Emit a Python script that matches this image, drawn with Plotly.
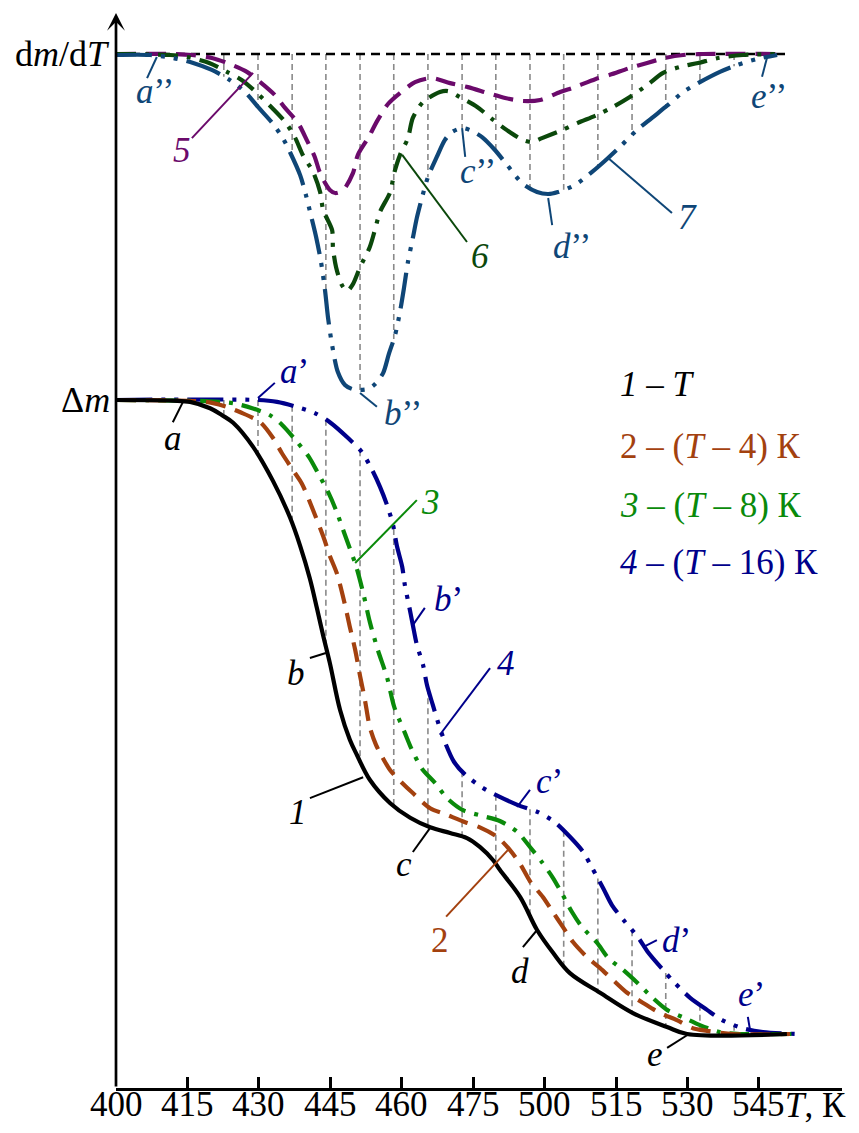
import numpy as np
import plotly.graph_objects as go

# ---------------- data ----------------
# Mass-loss curves (relative Δm) for different heating programmes
T1 = [400.0, 412.8, 416.7, 421.2, 423.9, 426.4, 430.9, 435.4, 439.2, 441.5, 443.7, 445.3, 446.7, 448.2, 450.5,
      452.7, 454.3, 457.2, 461.8, 466.3, 470.8, 475.3, 479.1, 482.0, 485.0, 486.5, 491.1, 494.9, 498.5, 502.3,
      509.1, 516.5, 524.2, 528.7, 551.2]
M1 = [1.000, 0.999, 0.997, 0.987, 0.976, 0.964, 0.926, 0.872, 0.815, 0.770, 0.718, 0.671, 0.628, 0.585, 0.511,
      0.464, 0.440, 0.401, 0.364, 0.341, 0.326, 0.317, 0.309, 0.295, 0.274, 0.259, 0.216, 0.164, 0.128, 0.096,
      0.065, 0.033, 0.011, 0.000, 0.000]

T2 = [400.0, 418.9, 421.9, 425.0, 427.9, 432.5, 435.4, 437.4, 440.3, 441.9, 444.2, 446.7, 448.2, 449.8, 451.6,
      452.7, 453.9, 455.0, 456.1, 457.2, 458.6, 460.0, 461.8, 464.5, 466.9, 470.8, 474.1, 478.7, 482.0, 485.9,
      488.8, 491.1, 493.3, 496.2, 498.3, 500.7, 503.0, 506.2, 509.1, 512.5, 515.2, 518.8, 522.6, 526.4, 530.0,
      533.2, 539.1, 551.9]
M2 = [1.000, 0.998, 0.995, 0.989, 0.981, 0.965, 0.940, 0.916, 0.885, 0.868, 0.830, 0.785, 0.754, 0.726, 0.677,
      0.642, 0.606, 0.565, 0.527, 0.484, 0.456, 0.437, 0.416, 0.396, 0.380, 0.356, 0.347, 0.334, 0.326, 0.311,
      0.290, 0.268, 0.241, 0.216, 0.194, 0.169, 0.145, 0.121, 0.104, 0.082, 0.065, 0.049, 0.033, 0.022, 0.009,
      0.005, 0.000, 0.000]

T3 = [400.0, 421.2, 426.4, 430.7, 434.7, 437.4, 440.8, 443.5, 445.5, 447.8, 449.6, 451.6, 454.1, 455.7, 457.2,
      459.0, 461.1, 462.7, 465.1, 466.7, 469.0, 471.9, 474.6, 478.2, 482.5, 486.5, 490.4, 493.3, 496.0, 498.5,
      500.7, 502.8, 505.0, 508.4, 510.9, 514.3, 517.6, 520.8, 524.2, 528.2, 531.6, 536.1, 540.6, 552.4]
M3 = [1.000, 0.998, 0.995, 0.987, 0.976, 0.961, 0.934, 0.910, 0.885, 0.855, 0.826, 0.787, 0.738, 0.696, 0.650,
      0.606, 0.562, 0.516, 0.475, 0.448, 0.418, 0.396, 0.372, 0.353, 0.344, 0.336, 0.319, 0.295, 0.271, 0.246,
      0.219, 0.192, 0.169, 0.144, 0.120, 0.101, 0.080, 0.058, 0.038, 0.025, 0.014, 0.003, 0.000, 0.000]

T4 = [400.0, 432.0, 436.3, 440.8, 444.9, 448.2, 452.3, 455.4, 457.7, 459.5, 461.1, 462.4, 463.3, 464.5, 465.1,
      466.0, 466.9, 467.8, 469.2, 470.1, 471.4, 472.6, 474.1, 476.2, 478.7, 482.7, 486.5, 490.6, 495.1, 498.9,
      502.3, 505.3, 507.3, 509.8, 511.8, 514.7, 517.6, 519.9, 523.3, 526.0, 529.4, 533.2, 536.6, 541.3, 545.8,
      553.5]
M4 = [1.000, 1.000, 0.997, 0.989, 0.979, 0.965, 0.940, 0.918, 0.890, 0.863, 0.834, 0.804, 0.770, 0.737, 0.708,
      0.677, 0.645, 0.614, 0.582, 0.550, 0.519, 0.491, 0.461, 0.429, 0.409, 0.388, 0.374, 0.361, 0.350, 0.334,
      0.311, 0.287, 0.262, 0.230, 0.203, 0.177, 0.153, 0.129, 0.101, 0.080, 0.057, 0.038, 0.022, 0.009, 0.003,
      0.000]

# Derivative curves dm/dT (5, 6, 7)
T5 = [400.0, 413.3, 417.1, 421.6, 425.0, 429.5, 432.5, 435.8, 438.1, 441.0, 443.0, 444.8, 446.0, 448.2, 449.4,
      451.2, 453.4, 454.5, 456.8, 459.0, 461.3, 464.0, 467.4, 471.2, 475.3, 479.3, 483.8, 487.7, 491.7, 495.6,
      500.1, 503.4, 508.0, 511.3, 515.8, 519.7, 523.7, 527.8, 532.3, 549.2]
D5 = [0.000, 0.000, -0.003, -0.012, -0.027, -0.054, -0.085, -0.124, -0.163, -0.208, -0.260, -0.311, -0.360,
      -0.411, -0.420, -0.411, -0.360, -0.305, -0.254, -0.199, -0.151, -0.118, -0.085, -0.073, -0.088, -0.100,
      -0.118, -0.133, -0.142, -0.139, -0.115, -0.100, -0.076, -0.063, -0.042, -0.027, -0.012, -0.003, 0.000, 0.000]

T6 = [400.0, 412.2, 416.0, 421.0, 425.0, 428.4, 431.8, 435.2, 438.1, 440.3, 442.1, 444.4, 446.0, 446.7, 448.7,
      448.9, 449.6, 450.9, 452.1, 453.4, 455.0, 457.2, 458.4, 459.5, 461.8, 462.7, 464.0, 465.8, 466.9, 469.2,
      473.0, 474.8, 477.5, 481.4, 485.0, 488.1, 491.7, 493.8, 496.0, 500.5, 504.1, 508.4, 512.0, 515.8, 519.7,
      523.3, 527.1, 531.2, 535.7, 541.3, 548.5]
D6 = [0.000, -0.003, -0.009, -0.027, -0.054, -0.079, -0.118, -0.163, -0.205, -0.251, -0.305, -0.356, -0.417,
      -0.471, -0.532, -0.586, -0.644, -0.698, -0.716, -0.695, -0.644, -0.583, -0.529, -0.477, -0.417, -0.360,
      -0.305, -0.254, -0.193, -0.145, -0.115, -0.112, -0.130, -0.160, -0.199, -0.230, -0.260, -0.266, -0.254,
      -0.230, -0.208, -0.184, -0.160, -0.130, -0.094, -0.057, -0.039, -0.027, -0.012, -0.003, 0.000]

T7 = [400.0, 407.7, 412.8, 417.4, 421.6, 425.7, 429.1, 432.0, 435.2, 437.6, 439.2, 441.5, 442.8, 443.9, 445.1,
      446.2, 447.1, 447.8, 448.7, 450.0, 451.6, 453.2, 455.0, 456.8, 458.4, 460.2, 461.5, 462.9, 464.0, 464.9,
      465.8, 466.9, 467.8, 469.0, 470.3, 472.3, 474.1, 475.7, 478.0, 479.8, 482.5, 485.4, 488.3, 491.5, 494.9,
      497.4, 499.6, 503.4, 507.3, 510.9, 514.0, 517.4, 520.8, 524.4, 527.8, 531.6, 536.1, 540.0, 544.5, 549.0]
D7 = [-0.003, -0.003, -0.012, -0.027, -0.048, -0.079, -0.115, -0.160, -0.208, -0.254, -0.296, -0.366, -0.426,
      -0.486, -0.553, -0.628, -0.713, -0.798, -0.879, -0.961, -1.000, -1.012, -1.015, -1.012, -0.997, -0.964,
      -0.906, -0.849, -0.779, -0.707, -0.628, -0.556, -0.495, -0.432, -0.372, -0.311, -0.260, -0.236, -0.224,
      -0.230, -0.251, -0.290, -0.338, -0.390, -0.417, -0.423, -0.417, -0.396, -0.356, -0.314, -0.275, -0.230,
      -0.193, -0.154, -0.115, -0.085, -0.054, -0.033, -0.015, -0.003]

# temperatures at which the guide lines are dropped
GUIDE_T = [424.3, 432.0, 439.7, 447.3, 455.0, 462.6, 470.3, 478.0, 485.6, 493.3, 500.9, 508.6, 516.3, 523.9,
           531.6, 539.3]

TICK_LABELS = ["400", "415", "430", "445", "460", "475", "500", "515", "530", "545"]

LEGEND_LINES = ["<i>1</i> – <i>T</i>",
                "2 – (<i>T</i> – 4) К",
                "<i>3</i> – (<i>T</i> – 8) К",
                "<i>4</i> – (<i>T</i> – 16) К"]

# ---------------- styling ----------------
FONT = "Liberation Serif"
FS = 35
C1, C2, C3, C4 = "#000000", "#A3410F", "#0A8A0A", "#00008B"
C5, C6, C7 = "#6B0A6B", "#0B480B", "#0F4677"
DASH = "20px,10px"
DASH_DOT = "20px,9px,4px,9px"
DASH_DOT_DOT = "36px,9px,4px,9px,4px,9px"

X_RANGE = [400, 563.62]
Y_RANGE = [-0.0852, 1.6104]       # Δm axis
Y2_RANGE = [-3.1239, 0.1239]      # dm/dT axis

fig = go.Figure()

# guide lines: between curve 4 and curve 1, and from the zero line down to curve 7
lx, ly, ux, uy = [], [], [], []
for t in GUIDE_T:
    lx += [t, t, None]
    ly += [float(np.interp(t, T4, M4)), float(np.interp(t, T1, M1)), None]
    ux += [t, t, None]
    uy += [0.0, float(np.interp(t, T7, D7)), None]
guide = dict(color="#8a8a8a", width=1.6, dash="6px,4px")
fig.add_trace(go.Scatter(x=lx, y=ly, mode="lines", line=guide, yaxis="y", hoverinfo="skip"))
fig.add_trace(go.Scatter(x=ux, y=uy, mode="lines", line=guide, yaxis="y2", hoverinfo="skip"))

# zero line of the derivative
fig.add_trace(go.Scatter(x=[400, 551.5], y=[0, 0], mode="lines", yaxis="y2",
                         line=dict(color="black", width=2.5, dash="9px,6px"), hoverinfo="skip"))

def curve(x, y, color, dash, axis, smoothing=0.8):
    fig.add_trace(go.Scatter(x=x, y=y, mode="lines", yaxis=axis,
                             line=dict(color=color, width=4.2, dash=dash, shape="spline",
                                       smoothing=smoothing)))

curve(T5, D5, C5, DASH, "y2")
curve(T6, D6, C6, DASH_DOT, "y2")
curve(T7, D7, C7, DASH_DOT_DOT, "y2")
curve(T4, M4, C4, DASH_DOT_DOT, "y")
curve(T3, M3, C3, DASH_DOT, "y")
curve(T2, M2, C2, DASH, "y")
curve(T1, M1, C1, "solid", "y", smoothing=1.0)

# curve labels with leader lines: (text, x, y, colour, leader x0, y0, x1, y1, axis)
LABELS = [
    ("<i>a</i>", 412.8, 0.940, C1, 415.1, 0.997, 412.8, 0.965, "y"),
    ("<i>a</i>’", 440.3, 1.045, C4, 432.0, 1.003, 435.8, 1.027, "y"),
    ("<i>3</i>", 470.8, 0.838, C3, 453.9, 0.743, 467.8, 0.842, "y"),
    ("<i>b</i>’", 474.9, 0.686, C4, 466.9, 0.645, 469.6, 0.672, "y"),
    ("<i>4</i>", 487.9, 0.584, C4, 473.0, 0.472, 484.3, 0.577, "y"),
    ("<i>b</i>", 440.6, 0.569, C1, 443.7, 0.593, 447.3, 0.601, "y"),
    ("<i>1</i>", 441.0, 0.350, C1, 443.7, 0.372, 455.7, 0.405, "y"),
    ("<i>c</i>", 464.9, 0.268, C1, 466.9, 0.287, 470.8, 0.325, "y"),
    ("<i>c</i>’", 497.6, 0.399, C4, 490.4, 0.358, 493.3, 0.385, "y"),
    ("2", 473.0, 0.148, C2, 474.4, 0.185, 488.3, 0.290, "y"),
    ("<i>d</i>", 491.1, 0.099, C1, 491.7, 0.137, 494.9, 0.164, "y"),
    ("<i>d</i>’", 526.3, 0.148, C4, 518.8, 0.137, 521.9, 0.148, "y"),
    ("<i>e</i>", 521.5, -0.032, C1, 524.2, -0.022, 528.7, -0.002, "y"),
    ("<i>e</i>’", 543.2, 0.063, C4, 542.4, 0.027, 542.9, 0.006, "y"),
    ("<i>a</i>’’", 408.8, -0.112, C7, 409.2, -0.009, 407.0, -0.073, "y2"),
    ("<i>5</i>", 414.9, -0.290, C5, 417.1, -0.254, 430.9, -0.057, "y2"),
    ("<i>6</i>", 482.0, -0.613, C6, 464.5, -0.305, 479.1, -0.568, "y2"),
    ("<i>7</i>", 528.9, -0.495, C7, 510.9, -0.314, 525.3, -0.480, "y2"),
    ("<i>c</i>’’", 481.6, -0.355, C7, 478.0, -0.224, 478.7, -0.311, "y2"),
    ("<i>d</i>’’", 502.8, -0.583, C7, 497.4, -0.435, 498.3, -0.517, "y2"),
    ("<i>e</i>’’", 547.2, -0.128, C7, 546.7, -0.012, 545.6, -0.069, "y2"),
    ("<i>b</i>’’", 464.7, -1.087, C7, 455.0, -1.024, 458.8, -1.066, "y2"),
]

shapes, annotations = [], []
for text, tx, ty, col, x0, y0, x1, y1, ax in LABELS:
    shapes.append(dict(type="line", xref="x", yref=ax, x0=x0, y0=y0, x1=x1, y1=y1,
                       line=dict(color=col, width=2)))
    annotations.append(dict(text=text, x=tx, y=ty, xref="x", yref=ax, showarrow=False,
                            xanchor="center", yanchor="middle",
                            font=dict(family=FONT, size=FS, color=col)))

# legend block
for text, yv, col in zip(LEGEND_LINES, [1.024, 0.926, 0.834, 0.744], [C1, C2, C3, C4]):
    annotations.append(dict(text=text, x=513.1, y=yv, xref="x", yref="y", showarrow=False,
                            xanchor="left", yanchor="middle",
                            font=dict(family=FONT, size=FS, color=col)))

# axis titles
annotations.append(dict(text="d<i>m</i>/d<i>T</i>", x=400, y=0, xref="x", yref="y2", showarrow=False,
                        xanchor="right", yanchor="middle", xshift=-4,
                        font=dict(family=FONT, size=36, color="black")))
annotations.append(dict(text="Δ<i>m</i>", x=400, y=1.0, xref="x", yref="y", showarrow=False,
                        xanchor="right", yanchor="middle", xshift=-4,
                        font=dict(family=FONT, size=36, color="black")))
annotations.append(dict(text="<i>T</i>, К", x=550.3, y=-0.016, xref="x", yref="paper", showarrow=False,
                        xanchor="left", yanchor="middle",
                        font=dict(family=FONT, size=FS, color="black")))

# tick labels of the temperature axis
tick_pos = list(np.linspace(400, 544.9, len(TICK_LABELS)))
for tp, lab in zip(tick_pos, TICK_LABELS):
    annotations.append(dict(text=lab, x=tp, y=-0.0149, xref="x", yref="paper", showarrow=False,
                            xanchor="center", yanchor="middle",
                            font=dict(family=FONT, size=FS, color="black")))

# vertical axis with arrow head
annotations.append(dict(text="", x=400, y=Y_RANGE[1], xref="x", yref="y",
                        ax=400, ay=Y_RANGE[0], axref="x", ayref="y", showarrow=True,
                        arrowhead=3, arrowsize=1.1, arrowwidth=2.7, arrowcolor="black", standoff=0))

fig.update_layout(
    width=859, height=1133,
    margin=dict(l=116, r=17, t=13, b=45),
    paper_bgcolor="white", plot_bgcolor="white",
    showlegend=False,
    shapes=shapes, annotations=annotations,
    xaxis=dict(range=X_RANGE, showgrid=False, zeroline=False, showline=True, linecolor="black",
               linewidth=2.7, ticks="inside", ticklen=11, tickwidth=2.5, tickcolor="black",
               tickvals=tick_pos, showticklabels=False, automargin=False),
    yaxis=dict(range=Y_RANGE, visible=False, showgrid=False, zeroline=False, automargin=False),
    yaxis2=dict(range=Y2_RANGE, visible=False, showgrid=False, zeroline=False, overlaying="y",
                automargin=False),
)

fig.write_html("out.html")
